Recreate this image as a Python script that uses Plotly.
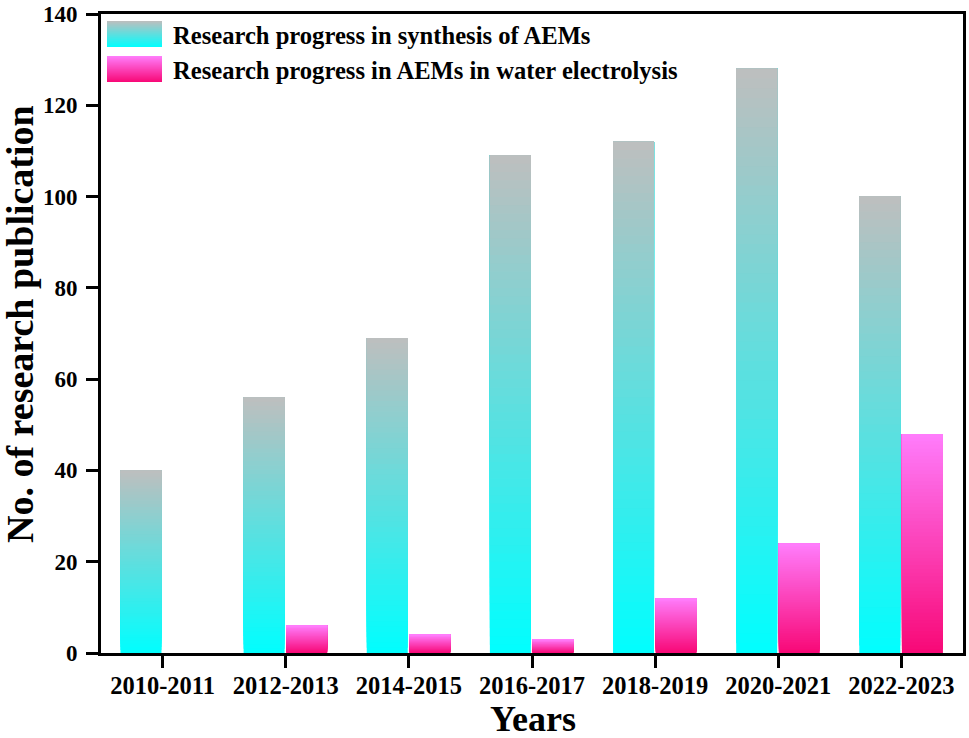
import plotly.graph_objects as go

# ---- data ----
years = ["2010-2011", "2012-2013", "2014-2015", "2016-2017", "2018-2019", "2020-2021", "2022-2023"]
synthesis = [40, 56, 69, 109, 112, 128, 100]
water_electrolysis = [0, 6, 4, 3, 12, 24, 48]
series_names = ["Research progress in synthesis of AEMs",
                "Research progress in AEMs in water electrolysis"]
y_ticks = [0, 20, 40, 60, 80, 100, 120, 140]
x_title = "Years"
y_title = "No. of research publication"

# ---- styles ----
FONT = "Liberation Serif"
N = 60  # gradient steps
cyan_bottom, cyan_top = (0, 255, 255), (190, 190, 190)
pink_bottom, pink_top = (248, 8, 118), (255, 125, 252)


def mix(c0, c1, t):
    return "rgb(%d,%d,%d)" % tuple(round(a + (b - a) * t) for a, b in zip(c0, c1))


fig = go.Figure()


def gradient_bars(values, c_bottom, c_top, offset, width):
    for k in range(N):
        frac = k / N
        fig.add_trace(go.Bar(
            x=years,
            y=[v * (1 - frac) for v in values],
            base=[v * frac for v in values],
            offset=offset, width=width,
            marker=dict(color=mix(c_bottom, c_top, (k + 0.5) / N), line=dict(width=0)),
            showlegend=False, hoverinfo="skip",
        ))


gradient_bars(synthesis, cyan_bottom, cyan_top, -0.342, 0.333)
gradient_bars(water_electrolysis, pink_bottom, pink_top, 0.004, 0.333)

# ---- manual legend with gradient swatches ----
L, R_, T, B = 101, 963, 14, 653
W, H = R_ - L, B - T


def px_x(p):
    return (p - L) / W


def px_y(p):
    return (B - p) / H


swatches = [((107, 162, 21, 47), cyan_bottom, cyan_top),
            ((107, 162, 56, 82), pink_bottom, pink_top)]
for (x0, x1, y0, y1), cb, ct in swatches:
    M = 26
    for k in range(M):
        top = y0 + (y1 - y0) * k / M
        fig.add_shape(type="rect", xref="paper", yref="paper",
                      x0=px_x(x0), x1=px_x(x1), y0=px_y(y1), y1=px_y(top),
                      fillcolor=mix(ct, cb, (k + 0.5) / M), line=dict(width=0),
                      layer="above")

for name, yc in zip(series_names, [35, 70]):
    fig.add_annotation(text=name, xref="paper", yref="paper",
                       x=px_x(171), y=px_y(yc), xanchor="left", yanchor="middle",
                       showarrow=False,
                       font=dict(family=FONT, size=24.6, color="black", weight="bold"))

# axis titles as annotations for exact placement
fig.add_annotation(text=x_title, xref="paper", yref="paper",
                   x=px_x(533), y=px_y(719), xanchor="center", yanchor="middle",
                   showarrow=False,
                   font=dict(family=FONT, size=36, color="black", weight="bold"))
fig.add_annotation(text=y_title, xref="paper", yref="paper",
                   x=px_x(20), y=px_y(324), xanchor="center", yanchor="middle",
                   textangle=-90, showarrow=False,
                   font=dict(family=FONT, size=38, color="black", weight="bold"))

fig.update_layout(
    width=969, height=738,
    margin=dict(l=101, r=6, t=14, b=85),
    plot_bgcolor="white", paper_bgcolor="white",
    barmode="overlay", showlegend=False,
    font=dict(family=FONT, color="black"),
)
fig.update_xaxes(
    type="category", categoryorder="array", categoryarray=years,
    range=[-0.5, 6.5], automargin=False,
    showline=True, linewidth=3, linecolor="black", mirror=True,
    ticks="outside", ticklen=12, tickwidth=3, tickcolor="black",
    tickfont=dict(family=FONT, size=24.5, weight="bold"),
    ticklabelstandoff=-3,
    showgrid=False, zeroline=False,
)
fig.update_yaxes(
    range=[0, 140], tickvals=y_ticks, automargin=False,
    showline=True, linewidth=3, linecolor="black", mirror=True,
    ticks="outside", ticklen=12, tickwidth=3, tickcolor="black",
    tickfont=dict(family=FONT, size=23, weight="bold"),
    ticklabelstandoff=4,
    showgrid=False, zeroline=False,
)

fig.write_html("out.html",
               config={"displayModeBar": False},
               post_script="document.body.style.margin='0';document.body.style.overflow='hidden';")
